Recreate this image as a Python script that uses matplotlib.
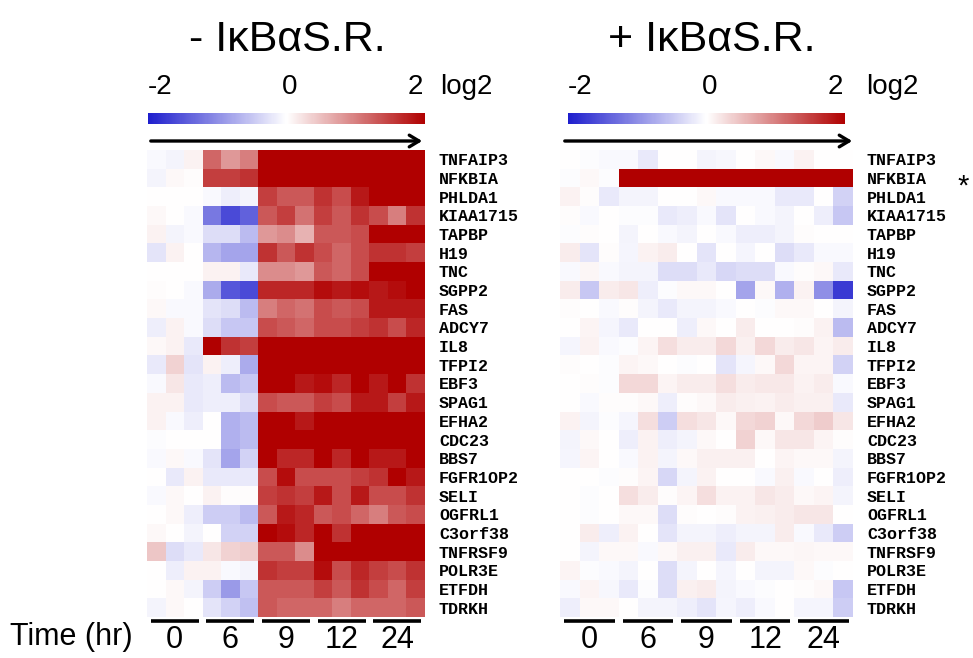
import numpy as np
import matplotlib
matplotlib.use("Agg")
import matplotlib.pyplot as plt
from matplotlib.colors import LinearSegmentedColormap
from matplotlib.cm import ScalarMappable
from matplotlib.colors import Normalize
import matplotlib.transforms as mtrans

genes = ["TNFAIP3", "NFKBIA", "PHLDA1", "KIAA1715", "TAPBP", "H19", "TNC", "SGPP2",
         "FAS", "ADCY7", "IL8", "TFPI2", "EBF3", "SPAG1", "EFHA2", "CDC23", "BBS7",
         "FGFR1OP2", "SELI", "OGFRL1", "C3orf38", "TNFRSF9", "POLR3E", "ETFDH", "TDRKH"]
time_labels = ["0", "6", "9", "12", "24"]
reps_per_time = 3

# log2 ratios, - IkBaS.R. (15 columns: 3 replicates x 5 time points)
minus_sr = [
    [-0.05, -0.1, 0.1, 1.2, 0.8, 1.0, 2.5, 2.5, 2.5, 2.5, 2.5, 2.5, 2.5, 2.5, 2.5],
    [-0.1, 0.05, 0.02, 1.5, 1.5, 1.6, 2.5, 2.5, 2.5, 2.5, 2.5, 2.5, 2.5, 2.5, 2.5],
    [0.0, 0.0, 0.0, -0.05, -0.15, -0.1, 1.5, 1.3, 1.3, 1.6, 1.4, 1.8, 2.5, 2.5, 2.5],
    [0.05, 0.0, -0.05, -1.2, -1.6, -1.4, 1.3, 1.5, 1.1, 1.5, 1.3, 1.6, 1.4, 1.0, 1.6],
    [0.1, -0.1, -0.05, -0.3, -0.3, -0.6, 0.8, 0.9, 0.6, 1.3, 1.3, 1.4, 2.5, 2.5, 2.5],
    [-0.25, 0.1, 0.0, -0.65, -0.8, -0.8, 1.6, 1.3, 1.6, 1.4, 1.2, 1.4, 1.6, 1.6, 1.5],
    [0.0, 0.0, 0.0, 0.1, 0.1, -0.2, 0.9, 0.9, 0.8, 1.3, 1.2, 1.4, 2.5, 2.5, 2.5],
    [0.02, 0.0, -0.05, -0.75, -1.5, -1.6, 1.7, 1.7, 1.7, 1.9, 1.8, 1.9, 1.8, 1.9, 2.5],
    [0.05, -0.05, -0.05, -0.25, -0.3, -0.6, 1.0, 1.2, 1.1, 1.4, 1.3, 1.4, 1.8, 1.8, 1.8],
    [-0.15, 0.1, -0.05, -0.3, -0.5, -0.5, 1.4, 1.3, 1.2, 1.4, 1.4, 1.5, 1.6, 1.4, 1.7],
    [0.05, 0.1, -0.2, 2.5, 1.6, 1.5, 2.5, 2.5, 2.5, 2.5, 2.5, 2.5, 2.5, 2.5, 2.5],
    [-0.2, 0.35, -0.25, 0.1, -0.15, -0.75, 2.5, 2.5, 2.5, 2.5, 2.5, 2.5, 2.5, 2.5, 2.5],
    [-0.05, 0.2, -0.2, -0.15, -0.6, -0.5, 2.5, 2.5, 1.8, 1.9, 1.7, 2.1, 1.8, 2.0, 1.6],
    [0.1, 0.1, -0.2, -0.15, -0.15, -0.3, 1.4, 1.3, 1.3, 1.5, 1.4, 1.8, 1.8, 1.5, 1.8],
    [0.1, -0.05, -0.15, 0.0, -0.7, -0.6, 2.5, 2.0, 1.8, 2.5, 2.0, 2.5, 2.5, 2.5, 2.5],
    [-0.03, 0.0, 0.0, 0.0, -0.7, -0.6, 2.5, 2.3, 2.0, 2.5, 2.0, 2.5, 2.5, 2.1, 2.5],
    [-0.05, 0.05, -0.05, -0.25, -0.8, -0.4, 2.0, 1.7, 1.7, 2.5, 1.7, 2.5, 1.8, 1.8, 2.5],
    [0.0, -0.2, 0.1, -0.2, -0.2, -0.2, 1.4, 1.9, 1.4, 1.4, 1.4, 1.5, 1.6, 2.0, 1.8],
    [-0.05, 0.05, 0.0, 0.1, 0.02, 0.02, 1.5, 1.6, 1.5, 1.8, 1.4, 1.8, 1.4, 1.4, 1.6],
    [0.0, 0.05, -0.15, -0.45, -0.45, -0.6, 1.3, 1.8, 1.7, 1.3, 1.4, 1.2, 1.0, 1.3, 1.4],
    [0.05, 0.0, -0.1, 0.0, -0.4, -0.4, 2.5, 1.9, 1.7, 2.5, 1.6, 2.5, 2.5, 2.1, 2.5],
    [0.45, -0.3, -0.2, 0.2, 0.35, 0.4, 1.3, 1.3, 0.9, 2.1, 2.5, 2.5, 2.5, 2.5, 2.5],
    [0.0, -0.15, 0.1, 0.1, -0.05, -0.1, 1.6, 1.5, 1.5, 1.9, 1.4, 1.7, 1.5, 1.4, 1.6],
    [0.0, 0.05, -0.1, -0.45, -0.9, -0.5, 1.3, 1.3, 1.3, 1.5, 1.3, 1.6, 1.4, 1.2, 1.5],
    [-0.1, 0.05, 0.0, -0.25, -0.4, -0.55, 1.3, 1.2, 1.2, 1.2, 1.0, 1.2, 1.2, 1.2, 1.3],
]

# log2 ratios, + IkBaS.R.
plus_sr = [
    [0.0, -0.02, -0.05, -0.05, -0.2, 0.0, 0.0, -0.1, -0.07, 0.0, 0.05, -0.05, 0.1, 0.0, 0.0],
    [-0.02, 0.05, -0.03, 2.5, 2.5, 2.5, 2.5, 2.5, 2.5, 2.5, 2.5, 2.5, 2.5, 2.5, 2.5],
    [0.1, 0.03, -0.2, -0.1, -0.1, 0.0, 0.0, 0.05, -0.05, -0.05, -0.05, -0.2, -0.2, 0.0, -0.4],
    [0.03, -0.05, 0.0, -0.03, -0.03, -0.2, -0.15, -0.05, -0.25, 0.0, -0.05, -0.1, 0.0, -0.15, -0.5],
    [-0.03, 0.03, 0.0, -0.1, 0.0, -0.05, -0.1, 0.0, -0.05, -0.15, -0.15, -0.1, 0.02, 0.0, 0.0],
    [0.15, -0.25, 0.03, -0.08, 0.1, 0.15, 0.0, -0.25, 0.0, -0.08, 0.0, -0.3, -0.2, -0.05, -0.05],
    [-0.05, 0.07, -0.05, -0.1, -0.1, -0.3, -0.3, -0.2, -0.35, -0.3, -0.3, -0.05, 0.02, 0.05, -0.2],
    [0.15, -0.5, 0.15, 0.2, -0.15, -0.03, 0.05, 0.05, 0.0, -0.8, 0.05, -0.7, 0.1, -1.0, -1.75],
    [0.02, 0.0, -0.05, 0.03, -0.1, -0.2, -0.1, -0.1, -0.05, 0.0, -0.03, 0.05, 0.05, 0.0, -0.1],
    [0.0, 0.08, -0.08, -0.2, 0.0, 0.0, -0.15, 0.05, 0.0, 0.15, 0.0, 0.0, 0.03, 0.1, -0.6],
    [-0.08, 0.1, -0.05, -0.02, 0.08, 0.25, 0.15, 0.15, 0.3, 0.12, 0.3, 0.15, 0.2, 0.08, 0.15],
    [0.03, 0.0, -0.02, 0.08, 0.05, 0.0, -0.02, 0.0, -0.25, -0.08, 0.05, 0.3, 0.08, 0.08, -0.4],
    [0.0, 0.02, -0.03, 0.3, 0.3, 0.08, 0.15, 0.15, 0.25, 0.15, 0.18, 0.18, 0.1, 0.15, -0.05],
    [0.0, -0.05, 0.02, 0.03, 0.05, -0.15, 0.02, 0.05, 0.15, 0.12, 0.1, 0.15, 0.12, 0.12, -0.2],
    [0.1, -0.1, -0.02, -0.08, 0.25, -0.45, 0.25, 0.2, 0.05, 0.3, 0.35, 0.05, 0.3, 0.4, 0.2],
    [-0.1, 0.05, 0.0, -0.15, 0.1, -0.15, -0.1, 0.05, 0.0, 0.35, 0.05, 0.2, 0.2, 0.08, 0.02],
    [-0.08, 0.08, 0.0, -0.05, 0.1, -0.1, 0.05, 0.12, 0.12, 0.12, 0.0, 0.08, 0.05, 0.05, -0.1],
    [0.0, 0.0, -0.02, 0.02, 0.08, -0.35, -0.1, 0.1, 0.0, 0.0, -0.05, 0.12, -0.05, 0.0, -0.15],
    [0.0, -0.02, 0.0, 0.25, 0.15, 0.03, 0.08, 0.25, 0.1, 0.1, 0.2, 0.15, 0.05, 0.08, -0.1],
    [0.0, -0.02, 0.0, 0.05, 0.05, -0.3, 0.02, 0.0, 0.03, 0.1, 0.12, 0.15, 0.2, 0.2, 0.0],
    [0.0, 0.15, -0.15, 0.1, 0.0, -0.25, -0.1, -0.1, -0.15, -0.1, -0.1, 0.15, -0.05, -0.2, -0.45],
    [0.0, -0.1, 0.05, 0.05, -0.05, 0.05, 0.12, 0.12, -0.2, 0.15, 0.05, 0.05, 0.07, 0.05, 0.05],
    [0.08, -0.03, -0.05, -0.1, 0.0, -0.3, -0.1, 0.0, -0.08, 0.0, -0.1, -0.1, 0.05, -0.03, 0.0],
    [-0.05, 0.08, -0.07, -0.2, -0.03, -0.3, 0.12, 0.15, -0.1, -0.05, -0.03, 0.0, 0.03, 0.05, -0.5],
    [-0.15, 0.05, 0.05, 0.0, -0.1, -0.1, -0.15, -0.25, -0.08, -0.15, -0.05, 0.0, -0.08, -0.08, -0.45],
]

W, H = 973, 658
fig = plt.figure(figsize=(W / 100, H / 100), dpi=100)
fig.patch.set_facecolor("white")

cmap = LinearSegmentedColormap.from_list("bwr2", ["#1E1ECD", "#FFFFFF", "#B00000"])
norm = Normalize(vmin=-2, vmax=2)

sans = "Liberation Sans"
mono = "Liberation Mono"


def fr(x0, y0, x1, y1):
    return [x0 / W, 1 - y1 / H, (x1 - x0) / W, (y1 - y0) / H]


panels = [
    dict(data=minus_sr, hm=(147, 150, 425, 617), cb=(148, 113, 425, 124),
         arrow=(148, 425), title="- IκBαS.R.", title_x=287,
         seg_gap=0.2, star=False, log_x=440),
    dict(data=plus_sr, hm=(560, 150, 853, 617), cb=(568, 113, 845, 124),
         arrow=(562, 855), title="+ IκBαS.R.", title_x=712,
         seg_gap=0.2, star=True, log_x=866),
]

for p in panels:
    d = np.array(p["data"])
    nrow, ncol = d.shape
    ax = fig.add_axes(fr(*p["hm"]))
    ax.pcolormesh(np.arange(ncol + 1), np.arange(nrow + 1), d, cmap=cmap, norm=norm,
                  shading="flat", edgecolor="face", linewidth=0)
    ax.set_xlim(0, ncol)
    ax.set_ylim(nrow, 0)
    for s in ax.spines.values():
        s.set_visible(False)
    ax.yaxis.tick_right()
    ax.set_yticks(np.arange(nrow) + 0.5)
    ax.set_yticklabels(genes, fontfamily=mono, fontweight="bold", fontsize=12)
    ax.tick_params(axis="y", length=0, pad=10)
    centers = [i * reps_per_time + reps_per_time / 2 for i in range(len(time_labels))]
    ax.set_xticks(centers)
    ax.set_xticklabels(time_labels, fontfamily=sans, fontsize=22)
    ax.tick_params(axis="x", length=0, pad=6)
    # time segments
    trans = mtrans.blended_transform_factory(ax.transData, ax.transAxes)
    for i in range(len(time_labels)):
        x0 = i * reps_per_time + p["seg_gap"]
        x1 = (i + 1) * reps_per_time - p["seg_gap"]
        ax.plot([x0, x1], [-0.009, -0.009], color="black", lw=2.6, transform=trans,
                clip_on=False, solid_capstyle="butt")
    if p["star"]:
        ax.text(963 / W, 1.95, "*", transform=mtrans.blended_transform_factory(fig.transFigure, ax.transData),
                fontsize=21, fontfamily=sans, ha="center", va="center")

    # colorbar
    cax = fig.add_axes(fr(*p["cb"]))
    cb = fig.colorbar(ScalarMappable(norm=norm, cmap=cmap), cax=cax, orientation="horizontal")
    cb.outline.set_visible(False)
    cax.set_xticks([])
    cax.set_yticks([])
    x0c, y0c, x1c, y1c = p["cb"]
    fig.text(x0c / W, 1 - 87 / H, "-2", fontfamily=sans, fontsize=20, ha="left", va="center")
    fig.text(((x0c + x1c) / 2 + 3) / W, 1 - 87 / H, "0", fontfamily=sans, fontsize=20, ha="center", va="center")
    fig.text((x1c - 2) / W, 1 - 87 / H, "2", fontfamily=sans, fontsize=20, ha="right", va="center")
    fig.text(p["log_x"] / W, 1 - 87 / H, "log2", fontfamily=sans, fontsize=20, ha="left", va="center")

    # arrow
    a0, a1 = p["arrow"]
    fig.add_artist(matplotlib.patches.FancyArrowPatch(
        (a0 / W, 1 - 141 / H), (a1 / W, 1 - 141 / H), transform=fig.transFigure,
        arrowstyle="->,head_length=0.5,head_width=0.3", mutation_scale=14,
        lw=2.4, color="black"))

    # title
    fig.text(p["title_x"] / W, 1 - 40 / H, p["title"], fontfamily=sans, fontsize=31,
             ha="center", va="center")

fig.text(10 / W, 1 - 637 / H, "Time (hr)", fontfamily=sans, fontsize=22, ha="left", va="center")

fig.savefig("out.png", dpi=100, facecolor="white")
